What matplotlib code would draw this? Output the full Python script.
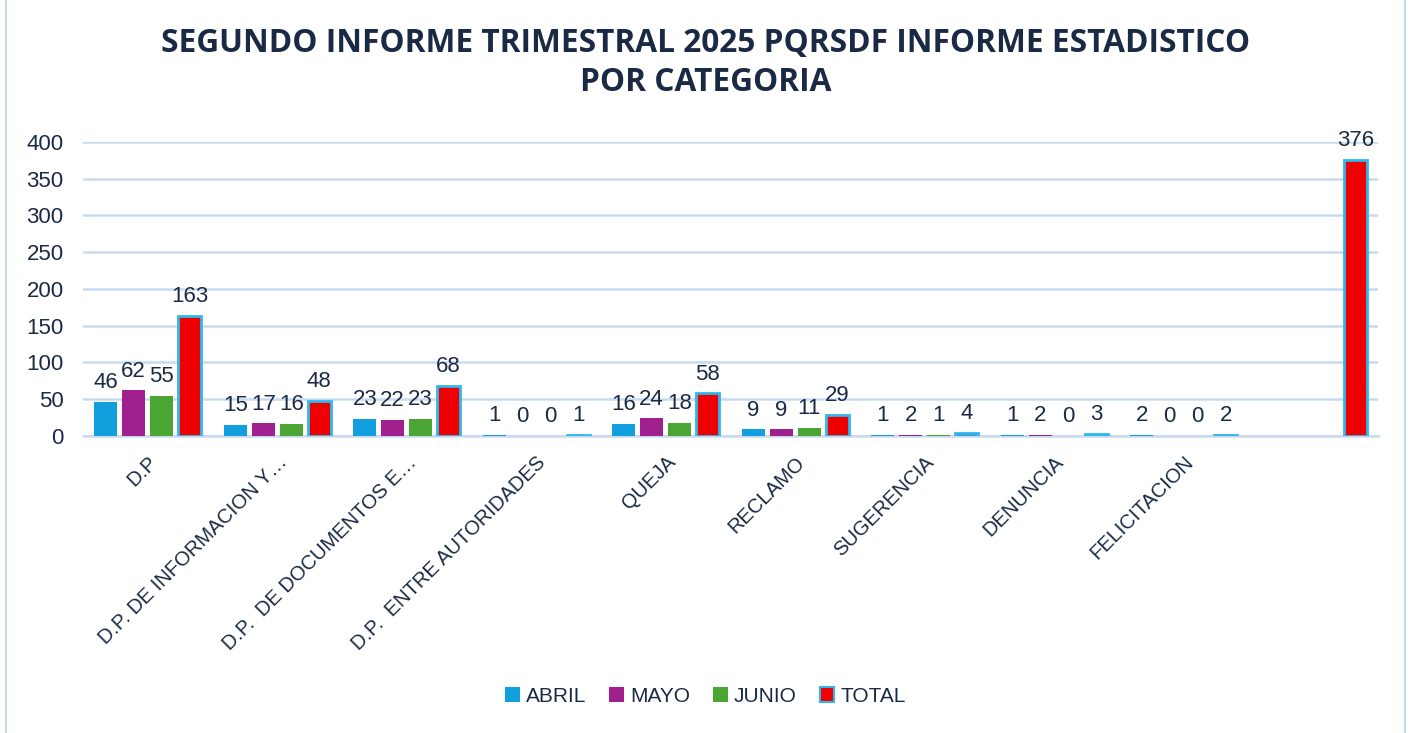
import matplotlib.pyplot as plt
import matplotlib.patches as mpatches
import numpy as np

# Data
categories = ["D.P", "D.P. DE INFORMACION Y…", "D.P.  DE DOCUMENTOS E…",
              "D.P.  ENTRE AUTORIDADES", "QUEJA", "RECLAMO", "SUGERENCIA",
              "DENUNCIA", "FELICITACION", ""]
abril = [46, 15, 23, 1, 16, 9, 1, 1, 2, None]
mayo = [62, 17, 22, 0, 24, 9, 2, 2, 0, None]
junio = [55, 16, 23, 0, 18, 11, 1, 0, 0, None]
total = [163, 48, 68, 1, 58, 29, 4, 3, 2, 376]
series_names = ["ABRIL", "MAYO", "JUNIO", "TOTAL"]

colors = ["#129FDD", "#A0208E", "#4AA532", "#EE0000"]
total_edge = "#2EB8F0"
text_color = "#1B2A44"
grid_color = "#C8DAF0"

plt.rcParams['font.family'] = ['Liberation Sans', 'DejaVu Sans']

fig = plt.figure(figsize=(14.11, 7.33), dpi=100)
ax = fig.add_axes([0.0588, 0.4052, 0.9178, 0.4011])

# chart border
fig.patches.append(mpatches.Rectangle((0.004, -0.01), 0.992, 1.02, transform=fig.transFigure,
                                      fill=False, edgecolor=grid_color, linewidth=1.5))

x = np.arange(len(categories))
width = 0.178
step = 0.216
offsets = [-1.5 * step, -0.5 * step, 0.5 * step, 1.5 * step]

for i, (name, vals) in enumerate(zip(series_names, [abril, mayo, junio, total])):
    xs = [xi + offsets[i] for xi, v in zip(x, vals) if v is not None]
    vs = [v for v in vals if v is not None]
    if name == "TOTAL":
        bars = ax.bar(xs, vs, width, color=colors[i], edgecolor=total_edge, linewidth=2, zorder=3)
    else:
        bars = ax.bar(xs, vs, width, color=colors[i], zorder=3)
    for b, v in zip(bars, vs):
        ax.text(b.get_x() + b.get_width() / 2, v + 12, str(v), ha="center", va="bottom",
                fontsize=16, color=text_color, clip_on=False)

ax.set_xlim(-0.5, len(categories) - 0.5)
ax.set_ylim(0, 400)
ax.set_yticks(range(0, 401, 50))
ax.yaxis.grid(True, color=grid_color, linewidth=1.8, zorder=0)
ax.set_axisbelow(True)
for s in ["top", "right", "left"]:
    ax.spines[s].set_visible(False)
ax.spines["bottom"].set_color(grid_color)
ax.spines["bottom"].set_linewidth(1.8)
ax.tick_params(axis="y", length=0, pad=14, labelsize=16, labelcolor=text_color)
ax.tick_params(axis="x", length=0, pad=12, labelsize=14.5, labelcolor=text_color)
ax.set_xticks(x)
ax.set_xticklabels(categories, rotation=45, ha="right", rotation_mode="anchor")

fig.text(0.5, 0.963, "SEGUNDO INFORME TRIMESTRAL 2025 PQRSDF INFORME ESTADISTICO\nPOR CATEGORIA",
         ha="center", va="top", fontsize=22.8, fontweight="bold", color=text_color,
         family="Open Sans", linespacing=1.25)

handles = []
for name, c in zip(series_names, colors):
    if name == "TOTAL":
        handles.append(mpatches.Patch(facecolor=c, edgecolor=total_edge, linewidth=1.5, label=name))
    else:
        handles.append(mpatches.Patch(facecolor=c, label=name))
fig.legend(handles=handles, loc="center", bbox_to_anchor=(0.5, 0.05), ncol=4, frameon=False,
           fontsize=15, labelcolor=text_color, handlelength=0.7, handleheight=0.7,
           handletextpad=0.3, columnspacing=1.1)

fig.savefig("out.png", dpi=100)
